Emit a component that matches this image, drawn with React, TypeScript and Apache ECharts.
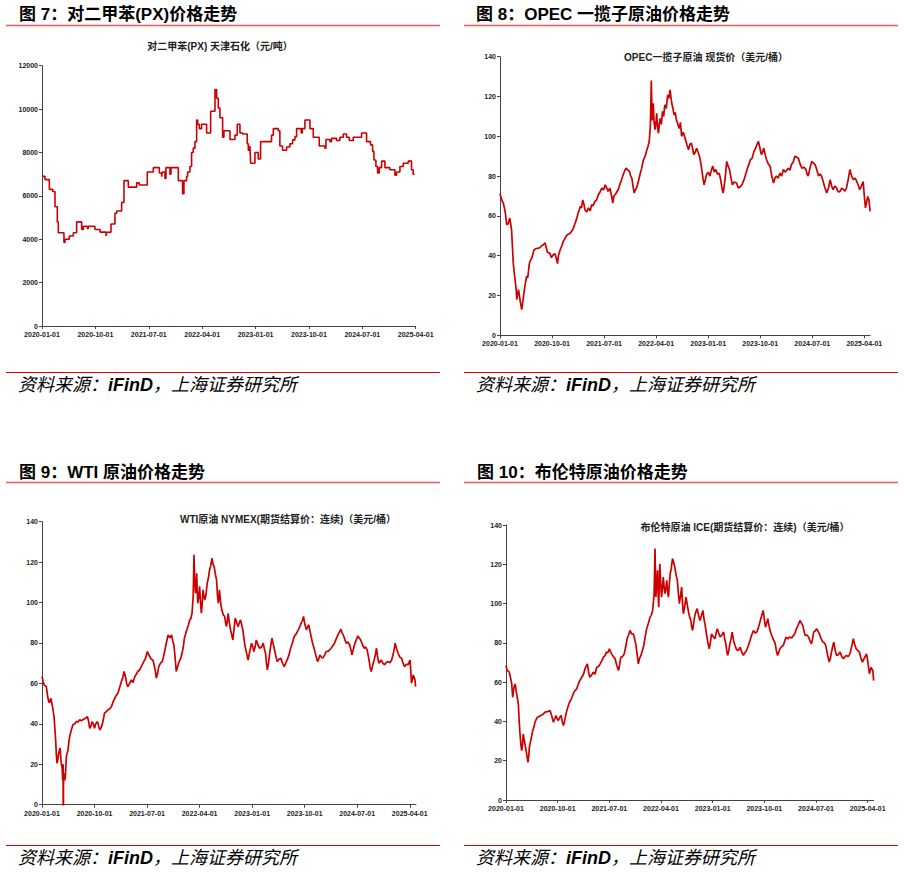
import React, { useEffect, useRef } from "react";
import * as echarts from "echarts";

// x values are months since 2020-01-01
const tickLabels = ["2020-01-01", "2020-10-01", "2021-07-01", "2022-04-01", "2023-01-01", "2023-10-01", "2024-07-01", "2025-04-01"];
const tickMonths = [0, 9, 18, 27, 36, 45, 54, 63];

const panelTitles = ["图 7：对二甲苯(PX)价格走势", "图 8：OPEC 一揽子原油价格走势", "图 9：WTI 原油价格走势", "图 10：布伦特原油价格走势"];
const chartTitles = ["对二甲苯(PX) 天津石化（元/吨）", "OPEC一揽子原油 现货价（美元/桶）", "WTI原油 NYMEX(期货结算价：连续)（美元/桶）", "布伦特原油 ICE(期货结算价：连续)（美元/桶）"];

const pxSteps: [number, number][] = [
  [0, 6900], [0.5, 6750], [1.24, 6300], [1.8, 6200], [2.19, 5500], [2.58, 4800], [2.75, 4300], [3.7, 3850], [3.88, 4000],
  [4.6, 4150], [5.28, 4300], [5.84, 4800], [6.69, 4450], [6.97, 4600], [7.64, 4500], [7.8, 4600], [8.93, 4450], [9.78, 4330],
  [10.8, 4150], [10.9, 4320], [11.63, 4700], [12.3, 5200], [12.58, 5300], [13.43, 5700], [13.82, 6700], [14.55, 6400],
  [15.96, 6600], [16.4, 6500], [17.75, 7100], [18.76, 7300], [19.78, 7050], [20.17, 6880], [20.28, 7100], [20.73, 6800],
  [20.9, 7300], [21.57, 7000], [21.74, 7300], [22.98, 6700], [23.7, 6100], [23.93, 6700], [24.38, 6900], [24.55, 7100],
  [24.94, 7350], [25.22, 8000], [25.5, 8200], [25.79, 8500], [26.07, 9500], [26.24, 9300], [26.52, 9100], [26.9, 9300],
  [27.75, 8900], [28.43, 9900], [29.16, 10900], [29.44, 10500], [29.72, 10050], [30.0, 9600], [30.45, 8700], [30.67, 9000],
  [31.69, 8600], [32.53, 8800], [32.92, 9300], [33.37, 8900], [33.82, 8850], [34.6, 8400], [34.78, 8100], [35.06, 8300],
  [35.17, 7500], [35.9, 8000], [36.46, 7700], [36.85, 8500], [38.7, 8800], [39.0, 9100], [39.83, 9000], [40.1, 8300],
  [40.56, 8100], [41.24, 8250], [41.8, 8400], [42.25, 8580], [42.64, 8730], [42.92, 9100], [43.7, 8900], [43.88, 9100],
  [44.33, 9500], [45.17, 9100], [45.73, 8700], [46.74, 8300], [47.7, 8200], [47.87, 8600], [48.54, 8500], [48.82, 8650],
  [49.66, 8550], [50.22, 8700], [50.79, 8850], [51.35, 8700], [51.8, 8550], [52.47, 8700], [53.88, 8900], [54.72, 8500],
  [55.39, 8350], [55.73, 8050], [55.96, 7650], [56.29, 7350], [56.57, 7050], [56.85, 7300], [57.25, 7600], [57.81, 7300],
  [58.65, 7200], [59.5, 6950], [59.78, 7100], [60.34, 7350], [60.9, 7500], [61.74, 7600], [62.3, 7200], [62.58, 7000], [62.8, 7000],
];

const opecPrices: [number, number][] = [
  [0, 71.1], [0.3, 68], [0.58, 66.4], [0.9, 62], [1.15, 55.6], [1.4, 56], [1.7, 58.9], [2.0, 53], [2.3, 36], [2.6, 28], [2.8, 23],
  [2.9, 18], [3.2, 23], [3.5, 17], [3.75, 12.9], [4.0, 18], [4.3, 24.6], [4.6, 29.6], [4.8, 29], [5.07, 36], [5.3, 38], [5.5, 38.8],
  [5.9, 43], [6.2, 43.5], [6.6, 43.8], [6.9, 44], [7.2, 45], [7.5, 45.5], [7.8, 46.4], [8.0, 44], [8.2, 41.7], [8.6, 41.3], [8.9, 39],
  [9.2, 40.5], [9.5, 41], [9.8, 38], [9.95, 36], [10.1, 40], [10.4, 43], [10.7, 45], [10.95, 47.2], [11.3, 49], [11.6, 50.5], [12.0, 51],
  [12.4, 52.2], [12.7, 54], [13.0, 56.4], [13.3, 59], [13.5, 61.4], [13.7, 63], [13.9, 64.8], [14.1, 64], [14.3, 68], [14.5, 66],
  [14.7, 63], [15.0, 62], [15.3, 64], [15.6, 62.5], [15.85, 65.6], [16.1, 65], [16.4, 67.3], [16.7, 68], [17.0, 70.6], [17.3, 72],
  [17.6, 74], [17.9, 73], [18.2, 75.6], [18.45, 74], [18.7, 72.3], [19.0, 74], [19.3, 70], [19.5, 66.4], [19.7, 70], [20.0, 71],
  [20.2, 72], [20.5, 73.5], [20.7, 75.6], [21.0, 78], [21.3, 80.7], [21.6, 83], [21.8, 84], [22.1, 83], [22.4, 82.3], [22.6, 80],
  [22.8, 79], [23.0, 75], [23.2, 71.5], [23.4, 73], [23.6, 74], [23.9, 77], [24.2, 80.7], [24.5, 84], [24.8, 88.2], [25.1, 90],
  [25.4, 93.2], [25.6, 95], [25.8, 97.4], [26.0, 105], [26.17, 128], [26.3, 108], [26.5, 116.6], [26.65, 107], [26.8, 103.3],
  [27.0, 108], [27.1, 111.6], [27.25, 104], [27.4, 101.6], [27.55, 106], [27.7, 109], [27.9, 106], [28.1, 112.5], [28.3, 110],
  [28.5, 115.8], [28.75, 114], [29.0, 120.8], [29.2, 119], [29.4, 123.3], [29.55, 120], [29.7, 116.6], [29.9, 114], [30.1, 110.8],
  [30.3, 112], [30.5, 108.3], [30.75, 106], [31.0, 104], [31.2, 107], [31.4, 100], [31.7, 102], [32.0, 99], [32.3, 96], [32.6, 93.2],
  [32.85, 96], [33.1, 96.6], [33.3, 94], [33.5, 90.8], [33.75, 92], [34.0, 94], [34.25, 92], [34.5, 90], [34.7, 87], [34.9, 83],
  [35.1, 79], [35.3, 75.6], [35.5, 78], [35.7, 80.7], [36.0, 82], [36.3, 80], [36.55, 83], [36.8, 85], [37.05, 82], [37.3, 83.3],
  [37.6, 81], [37.9, 81.5], [38.1, 79], [38.3, 75.6], [38.45, 73], [38.6, 71.5], [38.9, 78], [39.2, 87.4], [39.45, 85], [39.7, 83.3],
  [39.95, 79], [40.2, 75.6], [40.5, 77], [40.9, 76.5], [41.2, 74], [41.6, 74.8], [41.9, 76], [42.2, 78.2], [42.5, 81], [42.8, 84],
  [43.05, 86], [43.3, 88.2], [43.6, 89], [43.9, 92.3], [44.2, 94], [44.45, 96], [44.7, 97.4], [44.95, 94], [45.2, 90.8], [45.4, 92],
  [45.6, 94], [45.85, 91], [46.1, 88.2], [46.4, 86], [46.7, 85], [47.0, 80], [47.3, 76.5], [47.55, 79], [47.8, 80], [48.1, 79],
  [48.4, 81.5], [48.7, 80], [49.0, 83.3], [49.3, 82], [49.6, 83], [49.9, 84], [50.15, 83], [50.4, 85.8], [50.7, 87], [51.0, 90],
  [51.3, 89.5], [51.6, 89], [51.9, 86], [52.2, 84], [52.55, 84.5], [52.9, 83.3], [53.1, 81], [53.3, 80], [53.6, 84], [53.9, 87.4],
  [54.2, 86.5], [54.5, 85.8], [54.8, 83], [55.1, 80], [55.35, 81], [55.6, 80], [55.9, 77], [56.2, 74], [56.5, 71.5], [56.8, 74],
  [57.1, 78.2], [57.35, 75], [57.6, 73.2], [57.9, 75], [58.2, 74], [58.5, 72], [58.8, 72.3], [59.1, 74], [59.4, 73.2], [59.65, 72.5],
  [59.9, 74], [60.2, 78], [60.5, 83.3], [60.8, 80], [61.1, 78.2], [61.4, 79], [61.7, 77.3], [62.0, 75], [62.2, 73.2], [62.5, 75],
  [62.8, 77.3], [63.0, 70], [63.2, 64], [63.4, 67], [63.6, 69.8], [63.8, 68], [64.0, 62.3],
];

const wtiPrices: [number, number][] = [
  [0, 63.4], [0.2, 61], [0.35, 59.3], [0.74, 58.4], [0.95, 54], [1.14, 51], [1.3, 50.5], [1.5, 52.7], [1.8, 48.6], [2.06, 43.6],
  [2.2, 38], [2.34, 32], [2.45, 25], [2.57, 20.5], [2.7, 22], [2.86, 25.5], [3.1, 28], [3.3, 20.5], [3.45, 18], [3.54, 12.3],
  [3.62, 20], [3.65, -37.6], [3.68, 10], [3.77, 15.6], [3.9, 12], [4.0, 13.9], [4.17, 23.8], [4.45, 27], [4.6, 31], [4.74, 33.7],
  [5.03, 37], [5.3, 39.5], [5.6, 40], [5.9, 41.1], [6.2, 41], [6.45, 42], [6.7, 41.5], [7.0, 42], [7.3, 42.5], [7.77, 43.6], [8.0, 41],
  [8.17, 37.8], [8.4, 39], [8.57, 41.1], [8.8, 40], [9.0, 37.8], [9.2, 40], [9.5, 41.1], [9.7, 39], [9.9, 37], [10.1, 38], [10.3, 39.5],
  [10.5, 42], [10.7, 45.3], [11.0, 46], [11.3, 46.9], [11.6, 47.5], [11.9, 48.6], [12.2, 51], [12.6, 53.5], [13.0, 55.1], [13.3, 58],
  [13.6, 60.9], [13.85, 63], [14.05, 65.9], [14.3, 63.4], [14.5, 60], [14.7, 58.4], [15.0, 60], [15.3, 61.7], [15.6, 60.5], [15.9, 63.4],
  [16.15, 64.5], [16.4, 65.9], [16.7, 66.5], [17.0, 68.3], [17.3, 70], [17.6, 71.6], [17.8, 73], [18.05, 75.8], [18.25, 74.5],
  [18.45, 73.3], [18.7, 72], [19.0, 71.6], [19.3, 68], [19.6, 62.6], [19.8, 65], [20.0, 68.3], [20.3, 70], [20.6, 70.8], [20.8, 73],
  [21.0, 75.8], [21.3, 80], [21.6, 84], [21.9, 82.5], [22.2, 84], [22.4, 81], [22.6, 79], [22.8, 73], [23.0, 65.9], [23.2, 68],
  [23.4, 70], [23.7, 72], [24.0, 74.9], [24.2, 78], [24.4, 82.4], [24.65, 85], [24.9, 87.3], [25.1, 89], [25.3, 91.4], [25.5, 92],
  [25.7, 94.7], [25.9, 103], [26.04, 123.6], [26.15, 112], [26.3, 104.6], [26.4, 108], [26.5, 114.5], [26.6, 105], [26.7, 99.7],
  [26.85, 103], [27.0, 108], [27.15, 100], [27.3, 94.7], [27.45, 100], [27.6, 106.3], [27.75, 103], [27.9, 101.3], [28.1, 104],
  [28.3, 109.6], [28.5, 112], [28.7, 116.2], [28.9, 118], [29.1, 121.9], [29.3, 119], [29.5, 117.8], [29.7, 114], [29.9, 111.2],
  [30.05, 104], [30.2, 99.7], [30.3, 102], [30.4, 106.3], [30.6, 100], [30.8, 96.4], [31.05, 94], [31.3, 93.1], [31.45, 90],
  [31.6, 88.1], [31.75, 91], [31.9, 94.7], [32.1, 90], [32.3, 86.5], [32.5, 84], [32.7, 81.5], [32.9, 87], [33.1, 92.3], [33.35, 90],
  [33.6, 88.1], [33.8, 90], [34.0, 91.4], [34.2, 89], [34.4, 86.5], [34.6, 82], [34.8, 78.2], [35.05, 75], [35.3, 71.6], [35.6, 76],
  [35.9, 79.9], [36.1, 78], [36.3, 75.8], [36.5, 78], [36.7, 81.5], [37.0, 79], [37.3, 77.4], [37.6, 78], [37.9, 79.9], [38.1, 77],
  [38.3, 74.9], [38.45, 70], [38.6, 66.7], [38.8, 70], [39.0, 74.9], [39.2, 79], [39.4, 82.4], [39.65, 79], [39.9, 75.8], [40.1, 73],
  [40.3, 70.8], [40.6, 72], [40.9, 72.5], [41.2, 70], [41.5, 68.3], [41.75, 70], [42.0, 71.6], [42.3, 74], [42.6, 77.4], [42.9, 80],
  [43.2, 83.2], [43.55, 84.5], [43.9, 86.5], [44.15, 88], [44.4, 89.8], [44.6, 91], [44.8, 93.1], [45.05, 89], [45.3, 86.5], [45.5, 88],
  [45.7, 89], [45.9, 86], [46.1, 83.2], [46.35, 80], [46.6, 77.4], [46.9, 74], [47.2, 70.8], [47.4, 72], [47.6, 74.1], [47.85, 73],
  [48.1, 72.5], [48.4, 74], [48.7, 75.8], [49.1, 76], [49.5, 77.4], [49.8, 78.5], [50.1, 79.9], [50.4, 82], [50.7, 84], [50.95, 85.5],
  [51.2, 86.8], [51.4, 85], [51.6, 84], [51.85, 82], [52.1, 79.9], [52.4, 80.5], [52.7, 79], [52.9, 77], [53.1, 74.1], [53.35, 77],
  [53.6, 79.9], [53.85, 81.5], [54.1, 83.5], [54.35, 82.5], [54.6, 81.5], [54.9, 79], [55.2, 77.4], [55.45, 78], [55.7, 76.6], [56.0, 72],
  [56.2, 68], [56.4, 65.9], [56.65, 69], [56.9, 71.6], [57.1, 74], [57.3, 77.4], [57.5, 73], [57.7, 70], [57.9, 70.5], [58.1, 71.6],
  [58.4, 70], [58.7, 69.2], [59.0, 70.5], [59.3, 70.8], [59.6, 70.2], [59.9, 71.6], [60.2, 74.9], [60.5, 79.9], [60.75, 77], [61.0, 74.9],
  [61.3, 73], [61.6, 72.5], [61.85, 70], [62.1, 68.3], [62.4, 69.5], [62.7, 69.2], [62.9, 70.5], [63.05, 71.6], [63.2, 65], [63.3, 60.1],
  [63.45, 62], [63.6, 64.2], [63.75, 63], [63.9, 61.7], [64.0, 58.4],
];

const brentPrices: [number, number][] = [
  [0, 68.5], [0.2, 66], [0.58, 65.1], [0.8, 62], [1.0, 59.1], [1.16, 52.3], [1.4, 57.4], [1.6, 59.1], [1.86, 54], [2.15, 48.9],
  [2.3, 40], [2.44, 33.6], [2.6, 28], [2.73, 25.1], [2.85, 27], [3.0, 33.6], [3.15, 31], [3.3, 28.5], [3.45, 26], [3.6, 23.4],
  [3.83, 19.2], [3.95, 22], [4.07, 26.8], [4.3, 30.2], [4.5, 33], [4.65, 35.3], [4.85, 37], [5.05, 39.6], [5.25, 41], [5.46, 42.1],
  [5.75, 42.5], [6.04, 43], [6.4, 43.5], [6.8, 44.7], [7.2, 45], [7.67, 45.5], [7.95, 43], [8.25, 39.6], [8.45, 41], [8.7, 43],
  [8.9, 41.5], [9.1, 40.4], [9.35, 42], [9.6, 43], [9.8, 40], [10.0, 37.9], [10.2, 40], [10.45, 43.8], [10.65, 46], [10.86, 48.1],
  [11.1, 50], [11.4, 51.5], [11.7, 54], [12.0, 55.7], [12.3, 56.5], [12.6, 59.1], [12.9, 61], [13.2, 62.5], [13.5, 64], [13.76, 66.8],
  [13.95, 68], [14.17, 69.3], [14.4, 65], [14.6, 62.5], [14.9, 63.5], [15.2, 65.1], [15.5, 64], [15.8, 67.6], [16.1, 68], [16.4, 69.3],
  [16.7, 71], [16.96, 72.7], [17.25, 73.5], [17.5, 75.3], [17.75, 75], [18.0, 77], [18.2, 75.5], [18.4, 74.4], [18.7, 73], [19.0, 71.9],
  [19.3, 68.5], [19.6, 65.9], [19.8, 69], [20.0, 72.7], [20.3, 73], [20.6, 74.4], [20.85, 78], [21.1, 82.1], [21.35, 84], [21.6, 86.3],
  [21.9, 84.5], [22.2, 84.6], [22.4, 82], [22.6, 79.5], [22.85, 74], [23.05, 69.3], [23.25, 72], [23.5, 73.6], [23.75, 76], [24.0, 78.7],
  [24.25, 83], [24.5, 87.2], [24.8, 90], [25.1, 93.1], [25.3, 94], [25.55, 96.5], [25.8, 105], [25.96, 128], [26.1, 103.3],
  [26.25, 110], [26.4, 116.9], [26.5, 105], [26.6, 98.2], [26.7, 110], [26.8, 120.3], [26.95, 110], [27.1, 103.3], [27.25, 108],
  [27.4, 113.5], [27.55, 108], [27.7, 105], [27.85, 108], [28.0, 111.8], [28.15, 106], [28.3, 103.3], [28.45, 110], [28.6, 115.2],
  [28.8, 118], [29.0, 122.9], [29.2, 121], [29.4, 118.6], [29.6, 115], [29.85, 111.8], [30.0, 106], [30.2, 100], [30.4, 104],
  [30.6, 108.4], [30.75, 100], [30.9, 94.8], [31.15, 99], [31.36, 103.3], [31.6, 99], [31.8, 95.7], [32.0, 93], [32.2, 91.4],
  [32.35, 88], [32.5, 86.3], [32.7, 90], [32.9, 94], [33.1, 96], [33.3, 97.4], [33.55, 94], [33.8, 91.4], [34.05, 94], [34.3, 96.5],
  [34.5, 92], [34.7, 88.9], [34.9, 85], [35.1, 81.2], [35.25, 79], [35.4, 77], [35.6, 80], [35.8, 84.6], [36.1, 83], [36.4, 82.1],
  [36.6, 85], [36.8, 87.2], [37.05, 85], [37.3, 83], [37.6, 84], [37.9, 85.5], [38.1, 82], [38.3, 79.5], [38.45, 76], [38.6, 73.6],
  [38.8, 76], [39.0, 79.5], [39.2, 82], [39.4, 85.5], [39.65, 81], [39.9, 78.7], [40.1, 77], [40.3, 76.1], [40.55, 76.5], [40.8, 77.8],
  [41.1, 75], [41.35, 73.6], [41.6, 75], [41.9, 76.1], [42.2, 78.5], [42.5, 81.2], [42.8, 84], [43.1, 86.3], [43.4, 85], [43.7, 85.5],
  [44.0, 88], [44.3, 91.4], [44.55, 94], [44.8, 96.5], [45.0, 92], [45.2, 88], [45.4, 90], [45.6, 92.3], [45.8, 89], [46.0, 86.3],
  [46.25, 84], [46.5, 82.1], [46.7, 81], [46.9, 79.5], [47.1, 76], [47.3, 73.6], [47.5, 75], [47.7, 77], [48.0, 78], [48.3, 78.7],
  [48.55, 81], [48.8, 83], [49.1, 82], [49.4, 83], [49.75, 82.5], [50.1, 83.8], [50.35, 85], [50.6, 87.2], [50.9, 89], [51.2, 91.4],
  [51.45, 90], [51.7, 88.9], [51.9, 86], [52.1, 83.8], [52.4, 84], [52.7, 83], [52.95, 81], [53.2, 79.5], [53.4, 82], [53.6, 85.5],
  [53.85, 86], [54.1, 87.2], [54.35, 86], [54.6, 84.6], [54.9, 82], [55.2, 80.4], [55.45, 80], [55.7, 78.7], [56.0, 74], [56.3, 70.2],
  [56.5, 72], [56.7, 75.3], [56.9, 78], [57.1, 80.4], [57.35, 76], [57.6, 73.6], [57.9, 74], [58.2, 75.3], [58.5, 73], [58.8, 71.9],
  [59.05, 73], [59.3, 73.6], [59.6, 73], [59.9, 74.4], [60.2, 78], [60.5, 82.1], [60.75, 79], [61.0, 77], [61.3, 76], [61.55, 75.3],
  [61.8, 72.5], [62.1, 70.2], [62.3, 71.5], [62.5, 72.7], [62.8, 74.4], [63.05, 70], [63.3, 64.3], [63.45, 66], [63.6, 67.6],
  [63.75, 66.5], [63.9, 65.9], [64.04, 60.8],
];

const LATIN = '"Liberation Sans", "Noto Sans CJK SC", sans-serif';
const CJK = '"Liberation Sans", "Noto Sans CJK SC", sans-serif';
const RED = "#cc0000";
const AXIS = "#444";

function tickFormatter(v: number) {
  const k = v / 9;
  if (Math.abs(k - Math.round(k)) > 1e-6) return "";
  return tickLabels[Math.round(k)] ?? "";
}

function xAxis(gridIndex: number, max: number) {
  return {
    type: "value",
    gridIndex,
    min: 0,
    max,
    interval: 9,
    axisLine: { show: true, lineStyle: { color: AXIS, width: 1 } },
    axisTick: { show: true, length: 3, customValues: tickMonths, lineStyle: { color: AXIS } },
    splitLine: { show: false },
    axisLabel: {
      customValues: tickMonths,
      formatter: tickFormatter,
      fontSize: 7,
      fontWeight: "bold",
      color: "#222",
      margin: 5,
      fontFamily: LATIN,
    },
  };
}

function yAxis(gridIndex: number, max: number, interval: number) {
  return {
    type: "value",
    gridIndex,
    min: 0,
    max,
    interval,
    axisLine: { show: true, lineStyle: { color: AXIS, width: 1 } },
    axisTick: { show: true, length: 3, lineStyle: { color: AXIS } },
    splitLine: { show: false },
    axisLabel: {
      formatter: (v: number) => String(v),
      fontSize: 7,
      fontWeight: "bold",
      color: "#222",
      margin: 4,
      fontFamily: LATIN,
    },
  };
}

function lineSeries(idx: number, data: [number, number][], extra: any = {}) {
  return {
    type: "line",
    xAxisIndex: idx,
    yAxisIndex: idx,
    data,
    showSymbol: false,
    symbol: "none",
    clip: true,
    lineStyle: { color: RED, width: 1.7 },
    itemStyle: { color: RED },
    ...extra,
  };
}

function text(x: number, y: number, str: string, size: number, weight: string, align: string, color = "#000") {
  return {
    type: "text",
    x,
    y,
    silent: true,
    style: {
      text: str,
      fill: color,
      fontSize: size,
      fontWeight: weight,
      fontFamily: CJK,
      textAlign: align,
      align,
      textVerticalAlign: "middle",
      verticalAlign: "middle",
    },
  };
}

function hline(x1: number, x2: number, y: number, color: string, w: number) {
  return { type: "line", silent: true, shape: { x1, y1: y, x2, y2: y }, style: { stroke: color, lineWidth: w } };
}

function source(x: number, y: number) {
  return {
    type: "text",
    x,
    y,
    silent: true,
    style: {
      text: "{a|资料来源：}{b|iFinD}{a|，上海证券研究所}",
      textVerticalAlign: "middle",
      verticalAlign: "middle",
      rich: {
        a: { fontSize: 18, fontStyle: "italic", fontFamily: CJK, fill: "#000", color: "#000" },
        b: { fontSize: 18, fontStyle: "italic", fontWeight: "bold", fontFamily: LATIN, fill: "#000", color: "#000" },
      },
    },
  };
}

export default function App() {
  const ref = useRef<HTMLDivElement>(null);
  useEffect(() => {
    if (!ref.current) return;
    const chart = echarts.init(ref.current, null, { renderer: "svg" });
    const option: any = {
      animation: false,
      backgroundColor: "#fff",
      grid: [
        { left: 42, top: 65.7, width: 373.7, height: 260.3 },
        { left: 500, top: 56.7, width: 370.1, height: 278.6 },
        { left: 42, top: 521.7, width: 374, height: 283 },
        { left: 506, top: 525, width: 367.7, height: 275 },
      ],
      xAxis: [xAxis(0, 63), xAxis(1, 64), xAxis(2, 64.07), xAxis(3, 64.05)],
      yAxis: [yAxis(0, 12000, 2000), yAxis(1, 140, 20), yAxis(2, 140, 20), yAxis(3, 140, 20)],
      series: [
        lineSeries(0, pxSteps, { step: "end", lineStyle: { color: RED, width: 1.6 } }),
        lineSeries(1, opecPrices),
        lineSeries(2, wtiPrices),
        lineSeries(3, brentPrices),
      ],
      graphic: [
        text(19, 14, panelTitles[0], 17, "bold", "left"),
        text(476, 14, panelTitles[1], 17, "bold", "left"),
        text(19, 472, panelTitles[2], 17, "bold", "left"),
        text(477, 472, panelTitles[3], 17, "bold", "left"),
        hline(6, 440, 25.5, "#ee5a5a", 1.3),
        hline(464, 898, 25.5, "#ee5a5a", 1.3),
        hline(6, 440, 482.5, "#ee5a5a", 1.3),
        hline(464, 898, 482.5, "#ee5a5a", 1.3),
        text(220, 46, chartTitles[0], 10, "bold", "center", "#222"),
        text(706, 57, chartTitles[1], 10, "bold", "center", "#222"),
        text(288, 519, chartTitles[2], 10, "bold", "center", "#222"),
        text(745, 527, chartTitles[3], 10, "bold", "center", "#222"),
        hline(6, 440, 372.5, "#e60000", 1.2),
        hline(464, 898, 372.5, "#e60000", 1.2),
        hline(6, 440, 845.5, "#e60000", 1.2),
        hline(464, 898, 845.5, "#e60000", 1.2),
        source(18, 385),
        source(476, 385),
        source(18, 858),
        source(476, 858),
      ],
    };
    chart.setOption(option);
    return () => chart.dispose();
  }, []);
  return (
    <div
      ref={ref}
      style={{ position: "absolute", left: 0, top: 0, width: 904, height: 872, background: "#fff" }}
    />
  );
}
